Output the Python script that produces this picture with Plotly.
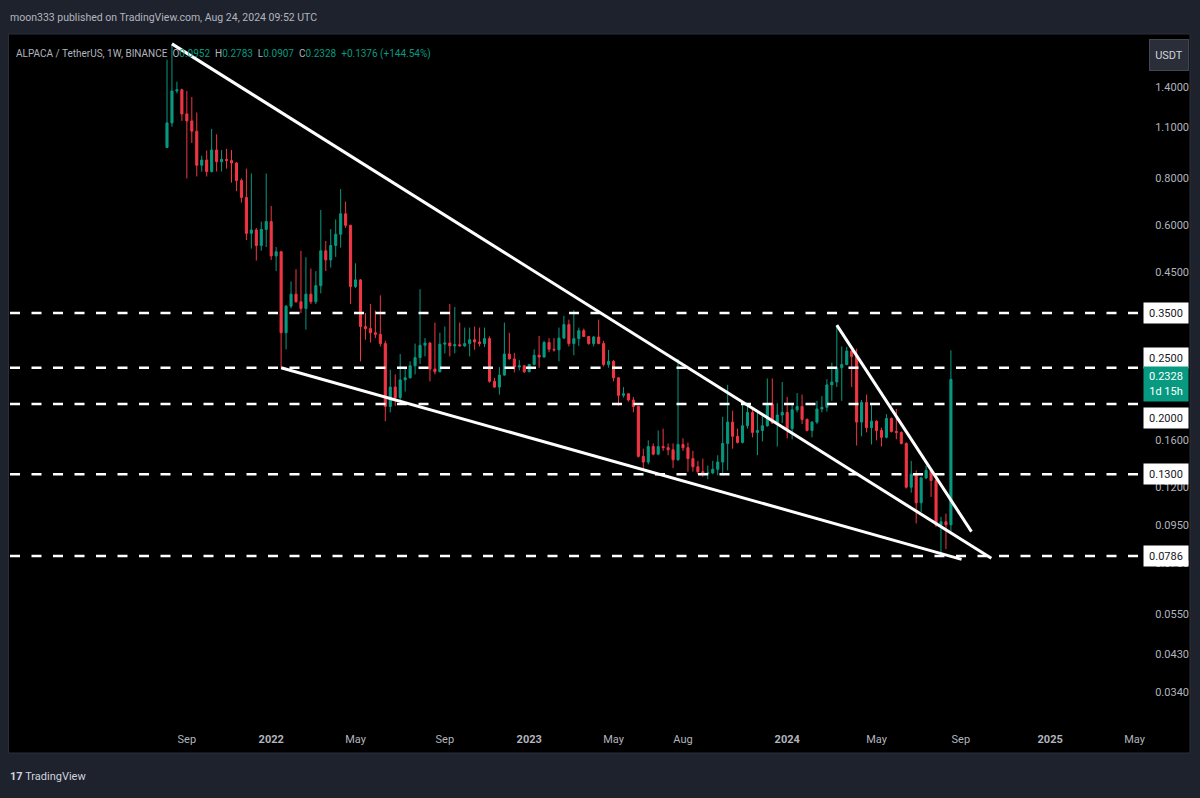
import numpy as np
import pandas as pd
import plotly.graph_objects as go

# ---------------- data (weekly candles, ALPACA/USDT, Binance) ----------------
first_week = "2021-08-09"

opens = [0.968, 1.126, 1.37, 1.38, 1.19, 1.14, 1.07, 0.868, 0.896, 0.835,
         0.953, 0.887, 0.90, 0.893, 0.88, 0.79, 0.712, 0.571, 0.583, 0.53,
         0.585, 0.614, 0.497, 0.51, 0.31, 0.365, 0.393, 0.375, 0.36, 0.393,
         0.375, 0.414, 0.513, 0.485, 0.53, 0.568, 0.644, 0.60, 0.412, 0.429,
         0.322, 0.318, 0.31, 0.307, 0.29, 0.197, 0.222, 0.208, 0.232, 0.235,
         0.253, 0.266, 0.287, 0.291, 0.248, 0.244, 0.289, 0.291, 0.286, 0.288,
         0.286, 0.29, 0.297, 0.293, 0.29, 0.299, 0.23, 0.222, 0.239, 0.272,
         0.264, 0.251, 0.253, 0.244, 0.255, 0.27, 0.267, 0.292, 0.28, 0.279,
         0.30, 0.326, 0.29, 0.299, 0.314, 0.303, 0.29, 0.302, 0.29, 0.255,
         0.26, 0.235, 0.211, 0.213, 0.205, 0.197, 0.145, 0.14, 0.154, 0.147,
         0.154, 0.153, 0.151, 0.142, 0.156, 0.153, 0.143, 0.136, 0.132, 0.13,
         0.131, 0.134, 0.14, 0.157, 0.179, 0.164, 0.158, 0.175, 0.19, 0.168,
         0.17, 0.175, 0.20, 0.178, 0.187, 0.19, 0.172, 0.193, 0.197, 0.182,
         0.17, 0.179, 0.194, 0.196, 0.225, 0.229, 0.25, 0.255, 0.277, 0.268,
         0.179, 0.202, 0.173, 0.18, 0.17, 0.163, 0.183, 0.169, 0.168, 0.157,
         0.12, 0.13, 0.109, 0.127, 0.133, 0.125, 0.095, 0.097, 0.0952]
highs = [1.66, 1.83, 1.45, 1.39, 1.37, 1.32, 1.20, 0.92, 0.95, 1.085,
         1.05, 0.953, 0.96, 0.953, 0.885, 0.80, 0.85, 0.825, 0.59, 0.614,
         0.825, 0.676, 0.525, 0.513, 0.367, 0.425, 0.458, 0.513, 0.493, 0.46,
         0.453, 0.659, 0.545, 0.586, 0.622, 0.75, 0.694, 0.602, 0.475, 0.431,
         0.35, 0.37, 0.355, 0.39, 0.295, 0.247, 0.24, 0.272, 0.25, 0.26,
         0.29, 0.405, 0.30, 0.293, 0.33, 0.31, 0.322, 0.37, 0.363, 0.33,
         0.32, 0.32, 0.322, 0.32, 0.32, 0.303, 0.235, 0.251, 0.33, 0.31,
         0.274, 0.262, 0.254, 0.256, 0.28, 0.304, 0.295, 0.30, 0.30, 0.32,
         0.344, 0.336, 0.356, 0.32, 0.318, 0.304, 0.304, 0.336, 0.295, 0.279,
         0.262, 0.236, 0.222, 0.214, 0.209, 0.198, 0.152, 0.16, 0.157, 0.17,
         0.172, 0.157, 0.157, 0.264, 0.162, 0.158, 0.15, 0.141, 0.143, 0.137,
         0.141, 0.146, 0.185, 0.225, 0.192, 0.172, 0.20, 0.199, 0.194, 0.19,
         0.187, 0.234, 0.234, 0.201, 0.229, 0.209, 0.20, 0.214, 0.212, 0.183,
         0.18, 0.204, 0.21, 0.233, 0.258, 0.325, 0.285, 0.284, 0.278, 0.281,
         0.205, 0.212, 0.201, 0.181, 0.173, 0.188, 0.184, 0.194, 0.169, 0.158,
         0.141, 0.133, 0.128, 0.137, 0.134, 0.126, 0.10, 0.102, 0.2783]
lows = [0.965, 1.10, 1.35, 1.14, 0.80, 0.995, 0.81, 0.835, 0.81, 0.83,
        0.835, 0.835, 0.85, 0.78, 0.74, 0.69, 0.548, 0.52, 0.483, 0.513,
        0.525, 0.485, 0.453, 0.25, 0.28, 0.36, 0.373, 0.35, 0.316, 0.37,
        0.37, 0.395, 0.453, 0.463, 0.494, 0.523, 0.59, 0.37, 0.408, 0.26,
        0.297, 0.292, 0.30, 0.285, 0.18, 0.19, 0.198, 0.202, 0.216, 0.234,
        0.24, 0.256, 0.268, 0.23, 0.24, 0.243, 0.273, 0.268, 0.273, 0.285,
        0.284, 0.268, 0.279, 0.285, 0.284, 0.228, 0.221, 0.212, 0.238, 0.263,
        0.243, 0.246, 0.242, 0.243, 0.254, 0.25, 0.266, 0.275, 0.276, 0.26,
        0.298, 0.285, 0.27, 0.286, 0.302, 0.288, 0.285, 0.289, 0.252, 0.25,
        0.23, 0.198, 0.208, 0.203, 0.19, 0.144, 0.134, 0.138, 0.146, 0.146,
        0.15, 0.146, 0.135, 0.141, 0.15, 0.132, 0.132, 0.13, 0.128, 0.126,
        0.13, 0.129, 0.129, 0.133, 0.152, 0.157, 0.157, 0.172, 0.163, 0.146,
        0.159, 0.174, 0.177, 0.154, 0.178, 0.162, 0.161, 0.19, 0.177, 0.169,
        0.163, 0.177, 0.19, 0.191, 0.204, 0.222, 0.204, 0.254, 0.222, 0.155,
        0.164, 0.168, 0.156, 0.16, 0.154, 0.162, 0.168, 0.161, 0.156, 0.119,
        0.116, 0.096, 0.103, 0.126, 0.113, 0.094, 0.079, 0.082, 0.0907]
closes = [1.126, 1.37, 1.38, 1.19, 1.14, 1.07, 0.868, 0.896, 0.835, 0.953,
          0.887, 0.90, 0.893, 0.88, 0.79, 0.712, 0.571, 0.583, 0.53, 0.585,
          0.614, 0.497, 0.51, 0.31, 0.365, 0.393, 0.375, 0.36, 0.393, 0.375,
          0.414, 0.513, 0.485, 0.53, 0.568, 0.644, 0.60, 0.412, 0.429, 0.322,
          0.318, 0.31, 0.307, 0.29, 0.197, 0.222, 0.208, 0.232, 0.235, 0.253,
          0.266, 0.287, 0.291, 0.248, 0.244, 0.289, 0.291, 0.286, 0.288, 0.286,
          0.29, 0.297, 0.293, 0.29, 0.299, 0.23, 0.222, 0.239, 0.272, 0.264,
          0.251, 0.253, 0.244, 0.255, 0.27, 0.267, 0.292, 0.28, 0.279, 0.30,
          0.326, 0.29, 0.299, 0.314, 0.303, 0.29, 0.302, 0.29, 0.255, 0.26,
          0.235, 0.211, 0.213, 0.205, 0.197, 0.145, 0.14, 0.154, 0.147, 0.154,
          0.153, 0.151, 0.142, 0.156, 0.153, 0.143, 0.136, 0.132, 0.13, 0.131,
          0.134, 0.14, 0.157, 0.179, 0.164, 0.158, 0.175, 0.19, 0.168, 0.17,
          0.175, 0.20, 0.178, 0.187, 0.19, 0.172, 0.193, 0.197, 0.182, 0.17,
          0.179, 0.194, 0.196, 0.225, 0.229, 0.25, 0.255, 0.277, 0.268, 0.179,
          0.202, 0.173, 0.18, 0.17, 0.163, 0.183, 0.169, 0.168, 0.157, 0.12,
          0.13, 0.109, 0.127, 0.133, 0.125, 0.095, 0.097, 0.0952, 0.2328]

# horizontal levels drawn by the author
level_values = [0.35, 0.25, 0.20, 0.13, 0.0786]
level_labels = ["0.3500", "0.2500", "0.2000", "0.1300", "0.0786"]

# trend lines drawn by the author (date, price)
upper_line_x = ["2021-08-16", "2024-10-15"]
upper_line_y = [1.83, 0.0775]
lower_line_x = ["2022-01-17", "2024-09-03"]
lower_line_y = [0.25, 0.077]
wedge_line_x = ["2024-03-11", "2024-09-17"]
wedge_line_y = [0.325, 0.0913]

# price-scale ticks that are visible (the others sit under the level boxes)
price_ticks = [1.4, 1.1, 0.8, 0.6, 0.45, 0.16, 0.12, 0.095, 0.075, 0.055,
               0.043, 0.034]
price_tick_labels = [f"{v:.4f}" for v in price_ticks]

time_ticks = ["2021-09-06", "2022-01-03", "2022-05-02", "2022-09-05", "2023-01-02",
              "2023-05-01", "2023-08-07", "2024-01-01", "2024-05-06", "2024-09-02",
              "2025-01-06", "2025-05-05"]
time_tick_labels = ["Sep", "<b>2022</b>", "May", "Sep", "<b>2023</b>", "May", "Aug",
                    "<b>2024</b>", "May", "Sep", "<b>2025</b>", "May"]

last_close = 0.2328
countdown = "1d 15h"
header_text = "moon333 published on TradingView.com, Aug 24, 2024 09:52 UTC"

# ---------------- layout calibration ----------------
W, H = 1200, 798
PL, PR, PT, PB = 9, 1142, 35, 724
BAR_PX = 4.9615          # pixels per weekly bar
FIRST_BAR_PX = 167
Y_A_PX, Y_A = 313, 0.35
Y_B_PX, Y_B = 556, 0.0786
K = (Y_B_PX - Y_A_PX) / (np.log10(Y_A) - np.log10(Y_B))

base = pd.Timestamp(first_week)


def date_at(px):
    return base + pd.Timedelta(days=7 * (px - FIRST_BAR_PX) / BAR_PX)


def logp_at(py):
    return np.log10(Y_A) - (py - Y_A_PX) / K


def xp(px):
    return (px - PL) / (PR - PL)


def yp(py):
    return (PB - py) / (PB - PT)


dates = pd.date_range(first_week, periods=len(opens), freq="7D")

UP = "#089981"
DOWN = "#f23645"
GREY = "#b2b5be"
LIGHT = "#d1d4dc"
FONT = "Roboto, Liberation Sans, sans-serif"

fig = go.Figure()

fig.add_trace(go.Candlestick(
    x=dates, open=opens, high=highs, low=lows, close=closes,
    increasing=dict(line=dict(color=UP, width=1), fillcolor=UP),
    decreasing=dict(line=dict(color=DOWN, width=1), fillcolor=DOWN),
    whiskerwidth=0, showlegend=False, hoverinfo="skip",
))

x_left, x_right = date_at(PL), date_at(PR)
line_start, line_end = date_at(10), date_at(1140)

for v in level_values:
    fig.add_trace(go.Scatter(
        x=[line_start, line_end], y=[v, v], mode="lines",
        line=dict(color="white", width=2.5, dash="10px,11.5px"),
        showlegend=False, hoverinfo="skip"))

for lx, ly in [(upper_line_x, upper_line_y), (lower_line_x, lower_line_y),
               (wedge_line_x, wedge_line_y)]:
    fig.add_trace(go.Scatter(
        x=lx, y=ly, mode="lines", line=dict(color="white", width=3),
        showlegend=False, hoverinfo="skip"))

SP = "&nbsp;"
legend_text = (
    f"ALPACA / TetherUS, 1W, BINANCE{SP}{SP}"
    f"O<span style='color:{UP}'>{opens[-1]:.4f}</span>{SP}{SP}"
    f"H<span style='color:{UP}'>{highs[-1]:.4f}</span>{SP}{SP}"
    f"L<span style='color:{UP}'>{lows[-1]:.4f}</span>{SP}{SP}"
    f"C<span style='color:{UP}'>{closes[-1]:.4f}</span>{SP}{SP}"
    f"<span style='color:{UP}'>+{closes[-1]-opens[-1]:.4f} "
    f"(+{(closes[-1]-opens[-1])/opens[-1]*100:.2f}%)</span>")

annotations = [
    dict(x=xp(8), y=yp(18), xref="paper", yref="paper", xanchor="left",
         yanchor="middle", text=header_text, showarrow=False,
         font=dict(size=10.5, color=GREY)),
    dict(x=xp(14), y=yp(54), xref="paper", yref="paper", xanchor="left",
         yanchor="middle", showarrow=False, font=dict(size=10, color=GREY),
         text=legend_text),
    dict(x=xp(1169), y=yp(55), xref="paper", yref="paper", xanchor="center",
         yanchor="middle", text="USDT", showarrow=False, bgcolor="#2a2e39",
         bordercolor="#434651", borderwidth=1, borderpad=1, width=36, height=28,
         font=dict(size=11, color=LIGHT)),
    dict(x=xp(8), y=yp(776), xref="paper", yref="paper", xanchor="left",
         yanchor="middle", text="<b>17</b> TradingView", showarrow=False,
         font=dict(size=11, color=LIGHT)),
]

label_shift = {"0.2500": 10, "0.2000": -14}
for v, lab in zip(level_values, level_labels):
    annotations.append(dict(
        x=1, xref="paper", xshift=1, xanchor="left", y=np.log10(v), yref="y",
        yanchor="middle", yshift=label_shift.get(lab, 0), text=lab,
        showarrow=False, bgcolor="white", width=42, height=18,
        font=dict(size=11, color="#131722")))

annotations.append(dict(
    x=1, xref="paper", xshift=1, xanchor="left", y=np.log10(last_close),
    yref="y", yanchor="middle", yshift=-5,
    text=f"{last_close:.4f}<br>{countdown}", showarrow=False, bgcolor=UP,
    width=42, height=32, font=dict(size=11, color="white")))

shapes = [dict(type="rect", xref="paper", yref="paper", x0=xp(8.5), x1=xp(1190),
               y0=yp(753), y1=yp(34), fillcolor="black",
               line=dict(color="#2a2e39", width=1), layer="below")]

fig.update_layout(
    width=W, height=H,
    margin=dict(l=PL, r=W - PR, t=PT, b=H - PB),
    paper_bgcolor="#1e222d", plot_bgcolor="black",
    font=dict(family=FONT, color=GREY, size=11),
    showlegend=False, boxgap=0.4,
    annotations=annotations, shapes=shapes,
    xaxis=dict(type="date", range=[x_left, x_right], showgrid=False,
               zeroline=False, showline=False, tickvals=time_ticks,
               ticktext=time_tick_labels, ticks="outside", ticklen=5,
               tickcolor="rgba(0,0,0,0)", tickfont=dict(size=11, color=GREY),
               rangeslider=dict(visible=False), fixedrange=True),
    yaxis=dict(type="log", side="right",
               range=[logp_at(PB), logp_at(PT)], showgrid=False,
               zeroline=False, showline=False, tickvals=price_ticks,
               ticktext=price_tick_labels, ticks="outside", ticklen=10,
               tickcolor="rgba(0,0,0,0)", tickfont=dict(size=11, color=GREY),
               fixedrange=True),
)

fig.write_html("out.html")
